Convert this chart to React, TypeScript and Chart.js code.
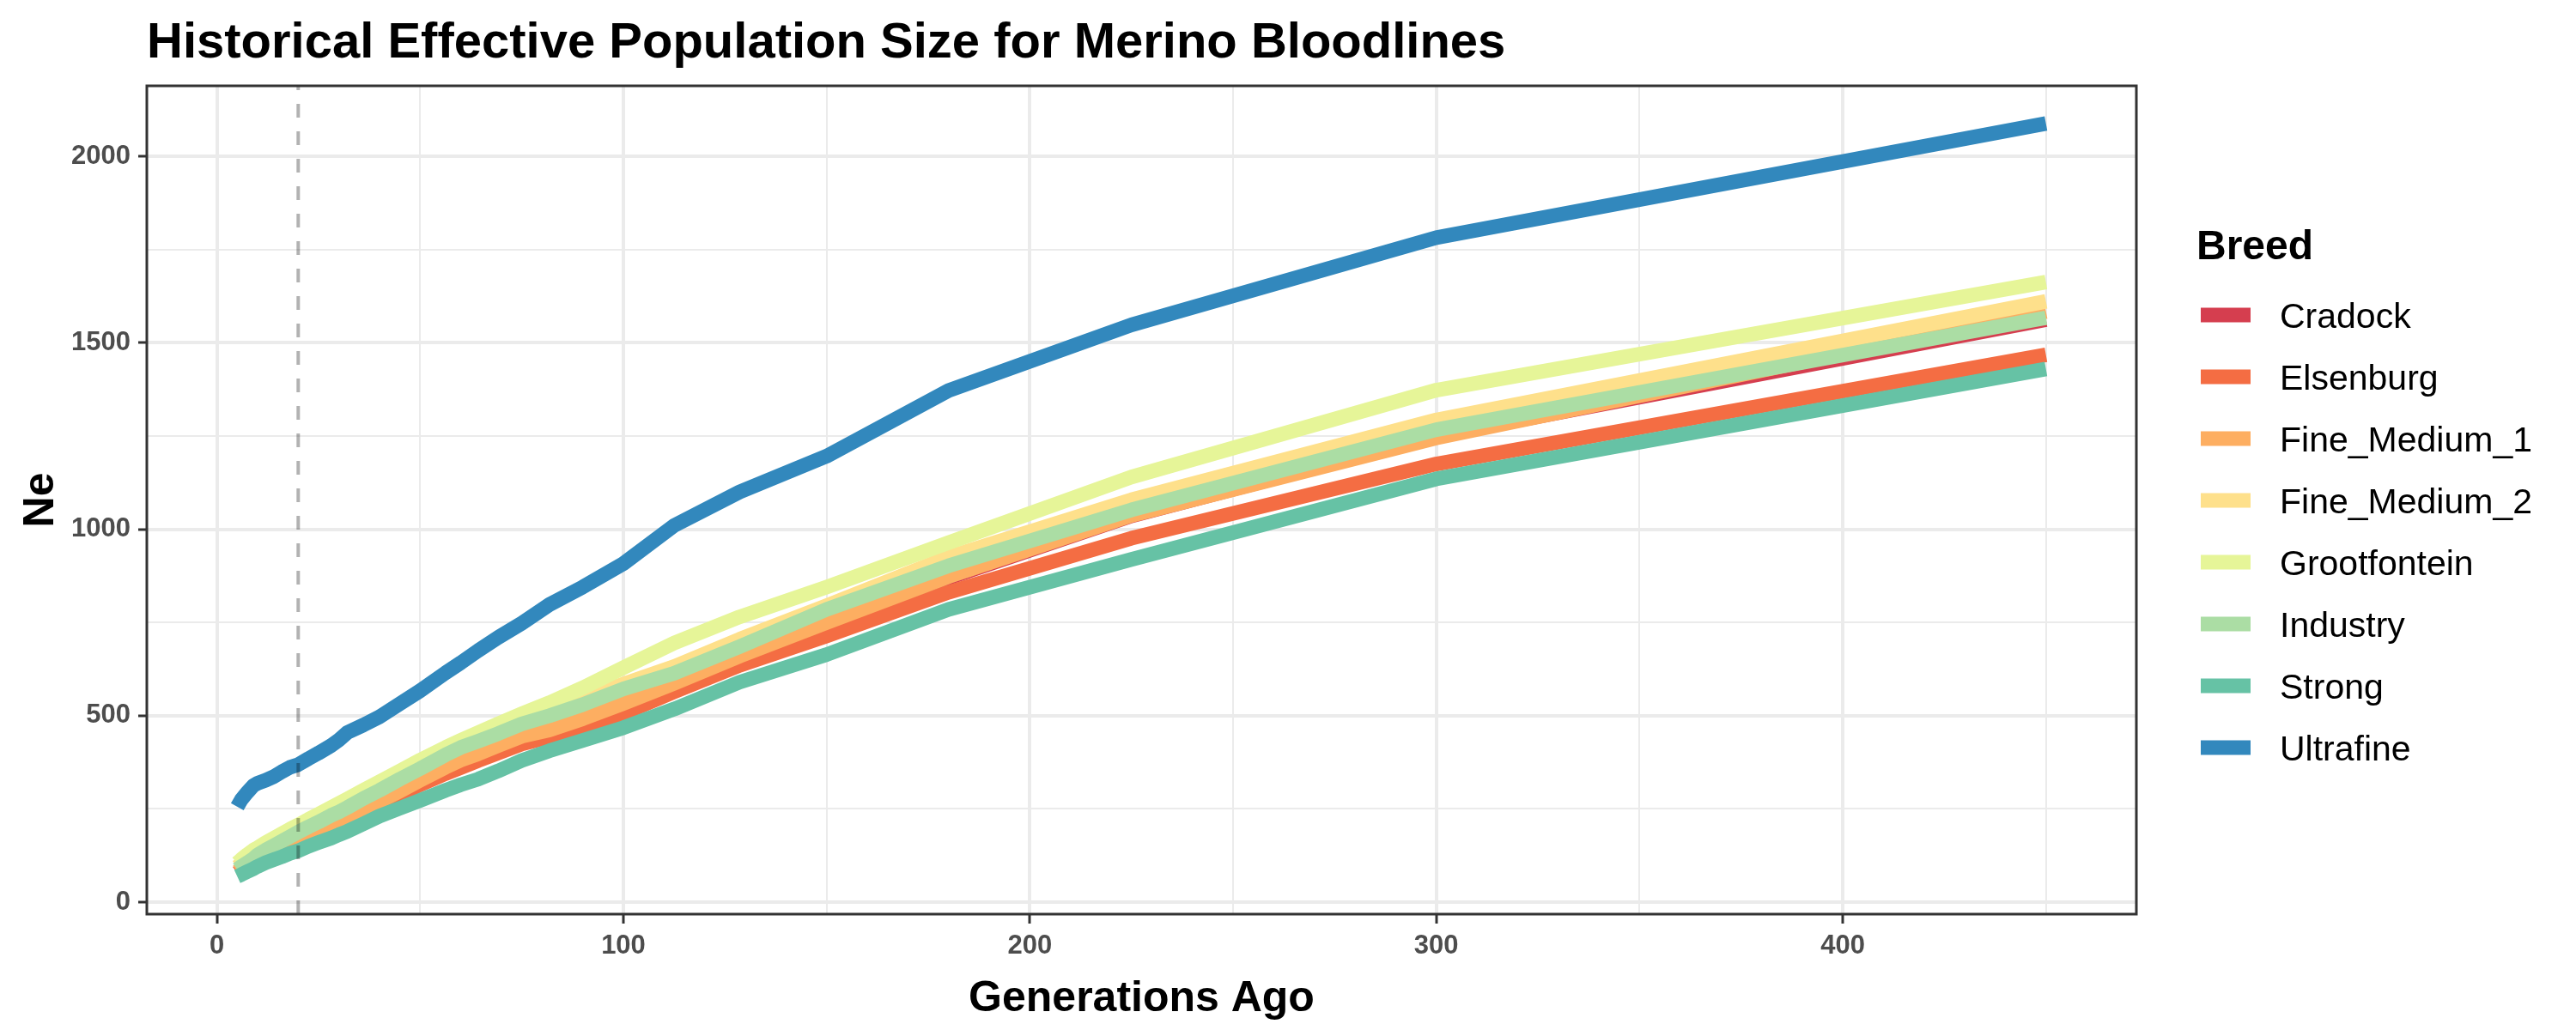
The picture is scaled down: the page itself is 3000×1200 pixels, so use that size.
import React, { useRef, useEffect } from 'react';
import { Chart, registerables } from 'chart.js';

// Register all Chart.js components
Chart.register(...registerables);

const FONT = '"Liberation Sans", Arial, Helvetica, sans-serif';

const chartTitle = 'Historical Effective Population Size for Merino Bloodlines';
const xTitle = 'Generations Ago';
const yTitle = 'Ne';
const legendTitle = 'Breed';

// axis breaks (major ones get a label, the rest are minor grid lines)
const xTickValues = [0, 50, 100, 150, 200, 250, 300, 350, 400, 450];
const xTickLabels = [0, 100, 200, 300, 400];
const yTickValues = [0, 250, 500, 750, 1000, 1250, 1500, 1750, 2000];
const yTickLabels = [0, 500, 1000, 1500, 2000];

// generations ago (x) shared by every breed
const generations = [
  5, 6, 7.5, 9, 10, 12, 14, 16, 18, 20, 22.5, 25, 28.1, 30, 32.1, 36, 40, 45, 50, 56.25,
  60, 64.3, 69.2, 75, 81.8, 90, 100, 112.5, 128.6, 150, 180, 225, 300, 450,
];

const breeds = [
  'Cradock', 'Elsenburg', 'Fine_Medium_1', 'Fine_Medium_2',
  'Grootfontein', 'Industry', 'Strong', 'Ultrafine',
];

// RColorBrewer "Spectral", 8 classes
const breedColors = [
  '#D53E4F', '#F46D43', '#FDAE61', '#FEE08B',
  '#E6F598', '#ABDDA4', '#66C2A5', '#3288BD',
];

const cradockNe = [
  79, 87, 97, 107, 113, 125, 137, 149, 161, 173, 185, 196, 207, 213, 225, 247, 267, 295, 324, 359,
  378, 395, 417, 442, 459, 489, 530, 584, 657, 747, 870, 1036, 1250, 1562,
];
const elsenburgNe = [
  78, 86, 96, 105, 110, 122, 133, 145, 158, 170, 182, 193, 205, 211, 222, 243, 261, 288, 315, 345,
  361, 380, 400, 424, 443, 472, 506, 564, 635, 714, 831, 976, 1175, 1468,
];
const fineMedium1Ne = [
  82, 90, 100, 110, 116, 128, 140, 152, 164, 176, 188, 199, 210, 216, 228, 250, 270, 298, 327, 362,
  381, 398, 420, 445, 462, 492, 533, 587, 660, 750, 873, 1037, 1245, 1584,
];
const fineMedium2Ne = [
  95, 104, 115, 126, 135, 148, 160, 172, 184, 196, 210, 224, 242, 252, 264, 288, 310, 340, 368, 405,
  425, 444, 465, 492, 515, 545, 585, 632, 705, 795, 925, 1079, 1293, 1611,
];
const grootfonteinNe = [
  105, 115, 128, 140, 146, 160, 172, 184, 196, 207, 222, 236, 254, 265, 277, 300, 323, 352, 381, 415,
  434, 455, 478, 505, 535, 575, 629, 695, 765, 845, 964, 1140, 1373, 1663,
];
const industryNe = [
  88, 96, 106, 117, 127, 140, 152, 164, 176, 188, 202, 215, 233, 242, 254, 278, 300, 330, 358, 395,
  415, 432, 452, 478, 500, 530, 572, 614, 685, 785, 902, 1052, 1267, 1567,
];
const strongNe = [
  69, 74, 82, 90, 96, 106, 114, 122, 131, 138, 150, 160, 172, 181, 190, 210, 231, 252, 273, 300,
  315, 330, 352, 380, 406, 434, 468, 518, 590, 664, 785, 919, 1135, 1430,
];
const ultrafineNe = [
  256, 275, 295, 313, 319, 327, 337, 350, 362, 369, 385, 400, 420, 435, 455, 475, 497, 532, 567, 615,
  642, 675, 710, 748, 798, 845, 908, 1010, 1100, 1196, 1372, 1548, 1782, 2088,
];

const breedNe = [
  cradockNe, elsenburgNe, fineMedium1Ne, fineMedium2Ne,
  grootfonteinNe, industryNe, strongNe, ultrafineNe,
];

// dashed reference line
const cutoffGeneration = 20;

// ggplot-style 5% expansion of the data range
const expand = (lo: number, hi: number) => {
  const pad = (hi - lo) * 0.05;
  return [lo - pad, hi + pad];
};
const allNe = breedNe.flat();
const [xMin, xMax] = expand(Math.min(...generations), Math.max(...generations));
const [yMin, yMax] = expand(Math.min(...allNe), Math.max(...allNe));

const decorPlugin = {
  id: 'ggDecor',
  afterDatasetsDraw(chart: any) {
    const { ctx, chartArea: a, scales } = chart;
    const vx = scales.x.getPixelForValue(cutoffGeneration);
    ctx.save();
    ctx.beginPath();
    ctx.rect(a.left, a.top, a.right - a.left, a.bottom - a.top);
    ctx.clip();
    ctx.strokeStyle = 'rgba(0, 0, 0, 0.3)';
    ctx.lineWidth = 4;
    ctx.setLineDash([16, 16]);
    ctx.beginPath();
    ctx.moveTo(vx, a.bottom);
    ctx.lineTo(vx, a.top);
    ctx.stroke();
    ctx.restore();
  },
  afterDraw(chart: any) {
    const { ctx, chartArea: a } = chart;
    ctx.save();

    // panel border
    ctx.strokeStyle = '#333333';
    ctx.lineWidth = 3;
    ctx.strokeRect(a.left, a.top, a.right - a.left, a.bottom - a.top);

    ctx.fillStyle = '#000000';
    ctx.textBaseline = 'alphabetic';

    // plot title
    ctx.font = `bold 58px ${FONT}`;
    ctx.textAlign = 'left';
    ctx.fillText(chartTitle, a.left, 67);

    // axis titles
    ctx.font = `bold 50px ${FONT}`;
    ctx.textAlign = 'center';
    ctx.fillText(xTitle, (a.left + a.right) / 2, 1178);
    ctx.save();
    ctx.translate(62, (a.top + a.bottom) / 2);
    ctx.rotate(-Math.PI / 2);
    ctx.fillText(yTitle, 0, 0);
    ctx.restore();

    // legend
    ctx.textAlign = 'left';
    ctx.font = `bold 48px ${FONT}`;
    ctx.fillText(legendTitle, 2558, 302);
    ctx.font = `41px ${FONT}`;
    breeds.forEach((name, i) => {
      const cy = 367 + i * 72;
      ctx.fillStyle = breedColors[i];
      ctx.fillRect(2563, cy - 8.5, 58, 17);
      ctx.fillStyle = '#000000';
      ctx.fillText(name, 2655, cy + 15);
    });

    ctx.restore();
  },
};

const tickFont = { family: FONT, size: 31, weight: 'bold' as const };

const App: React.FC = () => {
  const chartRef = useRef<HTMLCanvasElement | null>(null);
  const chartInstance = useRef<Chart | null>(null);

  useEffect(() => {
    if (!chartRef.current) return;
    if (chartInstance.current) {
      chartInstance.current.destroy();
    }
    const ctx = chartRef.current.getContext('2d');
    if (!ctx) return;

    const isMajor = (labels: number[]) => (c: any) => !!c.tick && labels.includes(c.tick.value);
    const xMajor = isMajor(xTickLabels);
    const yMajor = isMajor(yTickLabels);

    chartInstance.current = new Chart(ctx, {
      type: 'line',
      data: {
        datasets: breeds.map((name, i) => ({
          label: name,
          data: generations.map((g, j) => ({ x: g, y: breedNe[i][j] })),
          borderColor: breedColors[i],
          backgroundColor: breedColors[i],
          borderWidth: 17,
          borderJoinStyle: 'round' as const,
          borderCapStyle: 'butt' as const,
          pointRadius: 0,
          tension: 0,
          fill: false,
          order: breeds.length - 1 - i,
        })),
      },
      options: {
        responsive: false,
        animation: false,
        layout: { padding: { left: 0, right: 512, top: 100, bottom: 0 } },
        plugins: {
          legend: { display: false },
          title: { display: false },
          tooltip: { enabled: false },
        },
        scales: {
          x: {
            type: 'linear',
            min: xMin,
            max: xMax,
            afterBuildTicks: (scale: any) => {
              scale.ticks = xTickValues.map((value) => ({ value }));
            },
            afterFit: (scale: any) => {
              scale.height = 135;
            },
            border: { display: false },
            grid: {
              color: '#EBEBEB',
              lineWidth: (c: any) => (xMajor(c) ? 4 : 2),
              tickColor: (c: any) => (xMajor(c) ? '#333333' : 'rgba(0,0,0,0)'),
              tickLength: 11,
              tickWidth: 3,
            },
            ticks: {
              autoSkip: false,
              maxRotation: 0,
              padding: 8,
              color: '#4D4D4D',
              font: tickFont,
              callback: (v: any) => (xTickLabels.includes(Number(v)) ? String(v) : ''),
            },
          },
          y: {
            type: 'linear',
            min: yMin,
            max: yMax,
            afterBuildTicks: (scale: any) => {
              scale.ticks = yTickValues.map((value) => ({ value }));
            },
            afterFit: (scale: any) => {
              scale.width = 171;
            },
            border: { display: false },
            grid: {
              color: '#EBEBEB',
              lineWidth: (c: any) => (yMajor(c) ? 4 : 2),
              tickColor: (c: any) => (yMajor(c) ? '#333333' : 'rgba(0,0,0,0)'),
              tickLength: 10,
              tickWidth: 3,
            },
            ticks: {
              autoSkip: false,
              padding: 9,
              color: '#4D4D4D',
              font: tickFont,
              callback: (v: any) => (yTickLabels.includes(Number(v)) ? String(v) : ''),
            },
          },
        },
      },
      plugins: [decorPlugin],
    });

    return () => {
      if (chartInstance.current) {
        chartInstance.current.destroy();
        chartInstance.current = null;
      }
    };
  }, []);

  return (
    <div style={{ position: 'absolute', left: 0, top: 0, width: 3000, height: 1200, background: '#ffffff' }}>
      <canvas ref={chartRef} width={3000} height={1200} style={{ width: 3000, height: 1200 }}></canvas>
    </div>
  );
};

export default App;
